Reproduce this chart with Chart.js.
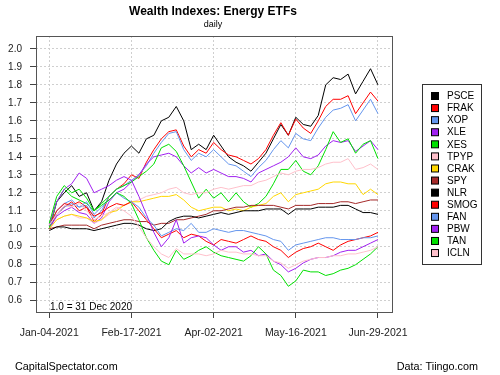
<!DOCTYPE html>
<html>
<head>
<meta charset="utf-8">
<script src="https://cdn.jsdelivr.net/npm/chart.js@4"></script>
<style>
  body { margin: 0; background: #fff; }
  #c { display: block; }
</style>
</head>
<body>
<canvas id="c" width="500" height="375"></canvas>
<script>
// trading-day offsets from Jan-04-2021 (in calendar days)
const days = [0, 4, 8, 12, 16, 20, 24, 28, 32, 36, 40, 44, 48, 52, 56, 60, 64, 68, 72, 76, 80, 84, 88, 92, 96, 100, 104, 108, 112, 116, 120, 124, 128, 132, 136, 140, 144, 148, 152, 156, 160, 164, 168, 172, 176]
const xTicks = [0, 44, 88, 132, 176]
const xLabels = ['Jan-04-2021', 'Feb-17-2021', 'Apr-02-2021', 'May-16-2021', 'Jun-29-2021']
const yTicks = [0.6, 0.7, 0.8, 0.9, 1.0, 1.1, 1.2, 1.3, 1.4, 1.5, 1.6, 1.7, 1.8, 1.9, 2.0]

const tickers = ['PSCE', 'FRAK', 'XOP', 'XLE', 'XES', 'TPYP', 'CRAK', 'SPY', 'NLR', 'SMOG', 'FAN', 'PBW', 'TAN', 'ICLN']
const colors = ['#000000', '#ff0000', '#6495ed', '#a020f0', '#00e000', '#ffc0cb', '#ffd700', '#a52a2a', '#000000', '#ff0000', '#6495ed', '#a020f0', '#00e000', '#ffc0cb']

// wealth index values
const psce = [1.00, 1.15, 1.20, 1.24, 1.18, 1.20, 1.10, 1.15, 1.27, 1.36, 1.42, 1.46, 1.42, 1.50, 1.52, 1.60, 1.62, 1.68, 1.60, 1.44, 1.47, 1.44, 1.52, 1.46, 1.40, 1.37, 1.35, 1.32, 1.37, 1.42, 1.50, 1.58, 1.52, 1.62, 1.58, 1.57, 1.63, 1.80, 1.84, 1.83, 1.86, 1.75, 1.82, 1.89, 1.80]
const frak = [1.00, 1.08, 1.12, 1.15, 1.10, 1.12, 1.04, 1.08, 1.18, 1.22, 1.25, 1.30, 1.28, 1.37, 1.44, 1.50, 1.54, 1.55, 1.46, 1.40, 1.44, 1.42, 1.48, 1.44, 1.41, 1.40, 1.38, 1.36, 1.39, 1.44, 1.52, 1.59, 1.52, 1.61, 1.56, 1.53, 1.60, 1.68, 1.72, 1.72, 1.74, 1.64, 1.70, 1.76, 1.71]
const xop = [1.00, 1.10, 1.14, 1.16, 1.12, 1.13, 1.06, 1.10, 1.18, 1.22, 1.24, 1.27, 1.30, 1.35, 1.42, 1.48, 1.53, 1.54, 1.44, 1.38, 1.42, 1.40, 1.44, 1.40, 1.36, 1.35, 1.32, 1.29, 1.34, 1.38, 1.44, 1.49, 1.45, 1.53, 1.50, 1.49, 1.56, 1.62, 1.66, 1.67, 1.69, 1.60, 1.66, 1.72, 1.64]
const xle = [1.00, 1.07, 1.10, 1.12, 1.09, 1.08, 1.03, 1.06, 1.15, 1.20, 1.22, 1.26, 1.30, 1.36, 1.40, 1.41, 1.42, 1.40, 1.35, 1.31, 1.34, 1.31, 1.33, 1.31, 1.29, 1.29, 1.28, 1.26, 1.31, 1.33, 1.35, 1.37, 1.40, 1.45, 1.40, 1.39, 1.41, 1.46, 1.49, 1.48, 1.49, 1.43, 1.46, 1.49, 1.44]
const xes = [1.00, 1.15, 1.22, 1.18, 1.16, 1.14, 1.10, 1.14, 1.18, 1.22, 1.24, 1.26, 1.29, 1.32, 1.36, 1.45, 1.47, 1.43, 1.35, 1.26, 1.17, 1.22, 1.17, 1.20, 1.15, 1.20, 1.15, 1.12, 1.14, 1.18, 1.25, 1.33, 1.33, 1.38, 1.32, 1.30, 1.35, 1.44, 1.54, 1.48, 1.50, 1.42, 1.47, 1.49, 1.39]
const tpyp = [1.00, 1.05, 1.07, 1.08, 1.06, 1.06, 1.03, 1.05, 1.08, 1.11, 1.13, 1.15, 1.16, 1.18, 1.19, 1.20, 1.22, 1.23, 1.20, 1.19, 1.20, 1.20, 1.22, 1.23, 1.22, 1.23, 1.24, 1.24, 1.26, 1.27, 1.29, 1.31, 1.30, 1.32, 1.33, 1.33, 1.34, 1.36, 1.37, 1.37, 1.39, 1.33, 1.34, 1.36, 1.33]
const crak = [1.00, 1.05, 1.07, 1.08, 1.07, 1.06, 1.04, 1.05, 1.09, 1.10, 1.13, 1.15, 1.15, 1.16, 1.17, 1.18, 1.18, 1.19, 1.16, 1.12, 1.10, 1.11, 1.12, 1.12, 1.10, 1.11, 1.10, 1.12, 1.13, 1.14, 1.18, 1.20, 1.15, 1.19, 1.20, 1.21, 1.22, 1.25, 1.26, 1.26, 1.25, 1.25, 1.19, 1.22, 1.19]
const spy = [1.00, 1.01, 1.02, 1.02, 1.02, 1.02, 1.00, 1.02, 1.03, 1.04, 1.05, 1.05, 1.04, 1.04, 1.02, 1.03, 1.03, 1.05, 1.05, 1.06, 1.07, 1.08, 1.10, 1.10, 1.11, 1.12, 1.12, 1.13, 1.13, 1.13, 1.13, 1.12, 1.11, 1.13, 1.13, 1.13, 1.14, 1.14, 1.14, 1.15, 1.15, 1.14, 1.15, 1.16, 1.16]
const nlr = [0.99, 1.01, 1.01, 1.00, 1.00, 1.00, 0.99, 1.00, 1.01, 1.02, 1.03, 1.03, 1.02, 1.00, 0.99, 1.00, 1.04, 1.06, 1.07, 1.07, 1.06, 1.07, 1.08, 1.09, 1.08, 1.09, 1.10, 1.10, 1.10, 1.11, 1.11, 1.11, 1.08, 1.11, 1.11, 1.11, 1.12, 1.12, 1.12, 1.13, 1.13, 1.11, 1.09, 1.09, 1.08]
const smog = [1.02, 1.10, 1.14, 1.13, 1.15, 1.12, 1.07, 1.09, 1.12, 1.14, 1.13, 1.15, 1.10, 1.05, 1.00, 0.95, 0.97, 0.99, 0.95, 0.97, 0.96, 0.93, 0.91, 0.94, 0.93, 0.92, 0.94, 0.96, 0.94, 0.93, 0.90, 0.88, 0.84, 0.87, 0.89, 0.90, 0.92, 0.90, 0.88, 0.91, 0.93, 0.94, 0.95, 0.96, 0.98]
const fan = [1.02, 1.08, 1.12, 1.14, 1.12, 1.15, 1.08, 1.12, 1.16, 1.20, 1.17, 1.15, 1.12, 1.06, 1.02, 0.96, 0.98, 1.00, 0.99, 1.03, 0.98, 0.98, 1.00, 0.99, 0.98, 0.99, 0.99, 0.98, 0.97, 0.96, 0.94, 0.93, 0.88, 0.91, 0.92, 0.93, 0.94, 0.95, 0.95, 0.94, 0.94, 0.94, 0.95, 0.95, 0.96]
const pbw = [1.02, 1.15, 1.22, 1.25, 1.31, 1.28, 1.20, 1.22, 1.24, 1.27, 1.29, 1.27, 1.18, 1.08, 0.98, 0.90, 0.95, 1.05, 0.92, 0.95, 0.96, 0.95, 0.91, 0.88, 0.90, 0.90, 0.87, 0.88, 0.85, 0.86, 0.82, 0.80, 0.76, 0.78, 0.81, 0.83, 0.84, 0.84, 0.85, 0.87, 0.88, 0.88, 0.90, 0.92, 0.94]
const tan = [1.03, 1.18, 1.24, 1.20, 1.22, 1.17, 1.10, 1.13, 1.16, 1.20, 1.18, 1.14, 1.05, 0.95, 0.88, 0.82, 0.80, 0.88, 0.83, 0.85, 0.88, 0.90, 0.87, 0.85, 0.84, 0.83, 0.82, 0.85, 0.90, 0.86, 0.77, 0.74, 0.68, 0.71, 0.77, 0.76, 0.76, 0.74, 0.75, 0.77, 0.78, 0.80, 0.83, 0.86, 0.90]
const icln = [1.02, 1.08, 1.13, 1.12, 1.14, 1.10, 1.05, 1.07, 1.09, 1.12, 1.10, 1.07, 1.01, 0.95, 0.90, 0.86, 0.84, 0.89, 0.86, 0.86, 0.86, 0.85, 0.86, 0.88, 0.87, 0.87, 0.86, 0.86, 0.85, 0.85, 0.82, 0.81, 0.78, 0.80, 0.82, 0.83, 0.84, 0.84, 0.85, 0.85, 0.86, 0.86, 0.87, 0.88, 0.90]

const series = [psce, frak, xop, xle, xes, tpyp, crak, spy, nlr, smog, fan, pbw, tan, icln]

const font = 'Liberation Sans, Arial, sans-serif'

// titles, box, legend and notes the R chart puts around the plot
const decor = {
    id: 'decor',
    afterDraw(chart) {
        const ctx = chart.ctx
        const a = chart.chartArea
        ctx.save()
        ctx.strokeStyle = '#555'
        ctx.lineWidth = 1
        ctx.strokeRect(a.left + 0.5, a.top + 0.5, a.right - a.left, a.bottom - a.top)

        ctx.fillStyle = '#000'
        ctx.textAlign = 'center'
        ctx.textBaseline = 'middle'
        ctx.font = 'bold 12px ' + font
        ctx.fillText('Wealth Indexes: Energy ETFs', 213, 12)
        ctx.font = '9px ' + font
        ctx.fillText('daily', 213, 25)

        ctx.font = '10px ' + font
        ctx.textAlign = 'left'
        ctx.fillText('1.0 = 31 Dec 2020', 50, 307)
        ctx.font = '10.8px ' + font
        ctx.fillText('CapitalSpectator.com', 15, 367)
        ctx.textAlign = 'right'
        ctx.fillText('Data: Tiingo.com', 478, 367)

        // legend
        ctx.font = '10px ' + font
        ctx.strokeStyle = '#333'
        ctx.strokeRect(422.5, 84.5, 59, 180)
        ctx.textAlign = 'left'
        chart.data.datasets.forEach((ds, i) => {
            const y = 96 + i * 12.08
            ctx.fillStyle = ds.borderColor
            ctx.fillRect(431, y - 3.5, 7, 7)
            ctx.strokeStyle = '#000'
            ctx.strokeRect(431.5, y - 3.5, 7, 7)
            ctx.fillStyle = '#000'
            ctx.fillText(ds.label, 447, y + 0.5)
        })
        ctx.restore()
    }
}

new Chart('c', {
    type: 'line',
    data: {
        datasets: tickers.map((t, i) => ({
            label: t,
            data: days.map((d, j) => ({ x: d, y: series[i][j] })),
            borderColor: colors[i],
            backgroundColor: colors[i],
            borderWidth: 1,
            pointRadius: 0,
            tension: 0,
            order: -i
        }))
    },
    options: {
        responsive: false,
        animation: false,
        devicePixelRatio: 1,
        layout: { padding: { left: 0, top: 36, right: 108, bottom: 0 } },
        plugins: { legend: { display: false }, title: { display: false }, tooltip: { enabled: false } },
        scales: {
            x: {
                type: 'linear',
                min: -7.1,
                max: 183.5,
                afterBuildTicks: s => { s.ticks = xTicks.map(v => ({ value: v })) },
                afterFit: s => { s.height = 63 },
                ticks: {
                    autoSkip: false,
                    maxRotation: 0,
                    padding: 9,
                    color: '#222',
                    font: { family: font, size: 10.5 },
                    callback: v => xLabels[xTicks.indexOf(v)]
                },
                grid: { color: '#cfcfcf', tickLength: 6, tickColor: '#444', tickBorderDash: [] },
                border: { display: false, dash: [2, 2] }
            },
            y: {
                min: 0.537,
                max: 2.072,
                afterBuildTicks: s => { s.ticks = yTicks.map(v => ({ value: v })) },
                afterFit: s => { s.width = 36 },
                ticks: {
                    padding: 8,
                    color: '#222',
                    font: { family: font, size: 10 },
                    callback: v => v.toFixed(1)
                },
                grid: { color: '#cfcfcf', tickLength: 6, tickColor: '#444', tickBorderDash: [] },
                border: { display: false, dash: [2, 2] }
            }
        }
    },
    plugins: [decor]
})
</script>
</body>
</html>
